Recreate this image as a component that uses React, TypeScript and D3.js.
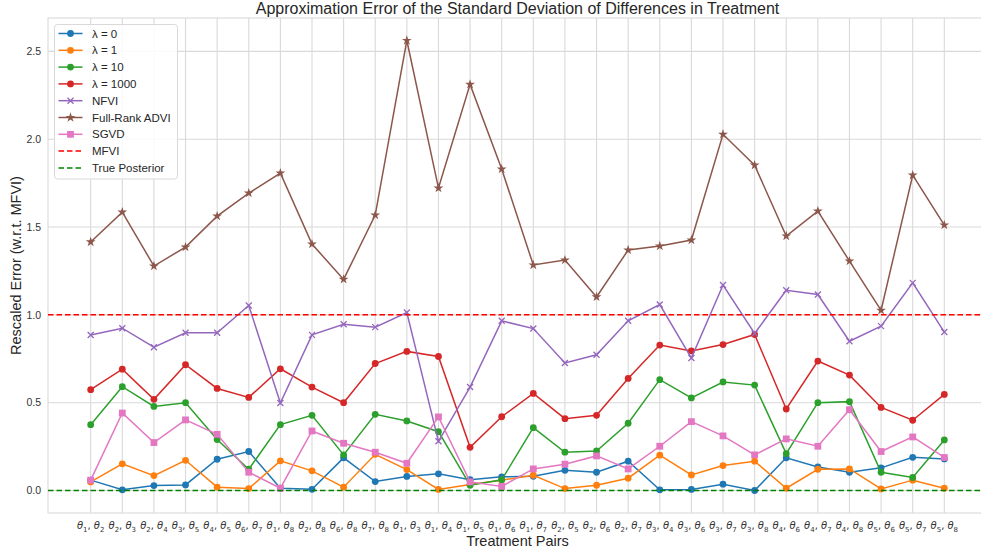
import * as d3 from "d3";

const W = 981;
const H = 554;
const margin = { top: 18, right: -6, bottom: 41, left: 48 };

// treatment pairs (theta_a, theta_b)
const pairA = [1, 2, 2, 3, 4, 6, 1, 2, 6, 7, 1, 1, 1, 1, 1, 2, 2, 2, 3, 3, 3, 3, 4, 4, 4, 5, 5, 5];
const pairB = [2, 3, 4, 5, 5, 7, 8, 8, 8, 8, 3, 4, 5, 6, 7, 5, 6, 7, 4, 6, 7, 8, 6, 7, 8, 6, 7, 8];

const lambda0 = [0.059, 0.004, 0.028, 0.032, 0.178, 0.222, 0.013, 0.007, 0.186, 0.051, 0.080, 0.095, 0.062, 0.078, 0.081, 0.115, 0.104, 0.167, 0.004, 0.006, 0.036, 0.0, 0.186, 0.134, 0.104, 0.129, 0.189, 0.180];
const lambda1 = [0.049, 0.152, 0.085, 0.172, 0.019, 0.011, 0.169, 0.112, 0.019, 0.206, 0.119, 0.006, 0.034, 0.059, 0.087, 0.011, 0.030, 0.070, 0.201, 0.089, 0.142, 0.167, 0.013, 0.121, 0.123, 0.009, 0.059, 0.013];
const lambda10 = [0.375, 0.591, 0.479, 0.500, 0.290, 0.121, 0.375, 0.428, 0.203, 0.434, 0.396, 0.335, 0.030, 0.061, 0.358, 0.218, 0.225, 0.383, 0.631, 0.527, 0.618, 0.600, 0.210, 0.500, 0.506, 0.104, 0.074, 0.288];
const lambda1000 = [0.574, 0.691, 0.519, 0.716, 0.581, 0.530, 0.693, 0.589, 0.500, 0.723, 0.792, 0.763, 0.246, 0.420, 0.553, 0.409, 0.428, 0.638, 0.828, 0.795, 0.831, 0.888, 0.464, 0.737, 0.657, 0.473, 0.400, 0.547];
const nfvi = [0.885, 0.924, 0.816, 0.898, 0.898, 1.053, 0.498, 0.886, 0.947, 0.930, 1.013, 0.280, 0.589, 0.966, 0.922, 0.726, 0.773, 0.966, 1.059, 0.754, 1.170, 0.894, 1.140, 1.116, 0.850, 0.936, 1.182, 0.902];
const fullRank = [1.415, 1.585, 1.278, 1.386, 1.562, 1.693, 1.807, 1.403, 1.202, 1.568, 2.562, 1.722, 2.312, 1.830, 1.284, 1.312, 1.102, 1.369, 1.392, 1.426, 2.028, 1.852, 1.449, 1.591, 1.306, 1.026, 1.795, 1.511];
const sgvd = [0.059, 0.441, 0.273, 0.402, 0.320, 0.104, 0.013, 0.339, 0.269, 0.218, 0.155, 0.419, 0.049, 0.023, 0.123, 0.150, 0.197, 0.123, 0.252, 0.392, 0.311, 0.203, 0.294, 0.252, 0.460, 0.222, 0.305, 0.188];

const mfviLevel = 1.0;
const trueLevel = 0.0;
const yTicks = [0, 0.5, 1.0, 1.5, 2.0, 2.5];

const series = [
  { name: "λ = 0", values: lambda0, color: "#1f77b4", marker: "circle" },
  { name: "λ = 1", values: lambda1, color: "#ff7f0e", marker: "circle" },
  { name: "λ = 10", values: lambda10, color: "#2ca02c", marker: "circle" },
  { name: "λ = 1000", values: lambda1000, color: "#d62728", marker: "circle" },
  { name: "NFVI", values: nfvi, color: "#9467bd", marker: "x" },
  { name: "Full-Rank ADVI", values: fullRank, color: "#8c564b", marker: "star" },
  { name: "SGVD", values: sgvd, color: "#e377c2", marker: "square" },
];
const refLines = [
  { name: "MFVI", value: mfviLevel, color: "#ff0000" },
  { name: "True Posterior", value: trueLevel, color: "#008000" },
];

const font = "'Liberation Sans', Arial, sans-serif";

function Marker({ type, x, y, color }) {
  if (type === "circle") return <circle cx={x} cy={y} r={3.4} fill={color} />;
  if (type === "square") return <rect x={x - 3.4} y={y - 3.4} width={6.8} height={6.8} fill={color} />;
  if (type === "star")
    return <path d={d3.symbol(d3.symbolStar, 30)()} transform={`translate(${x},${y})`} fill={color} />;
  return (
    <path
      d={`M${x - 3},${y - 3}L${x + 3},${y + 3}M${x - 3},${y + 3}L${x + 3},${y - 3}`}
      stroke={color}
      strokeWidth={1.3}
      fill="none"
    />
  );
}

export default function App() {
  const n = pairA.length;
  const x = d3.scaleLinear([-1.35, n - 1 + 1.35], [margin.left, W - margin.right]);
  const y = d3.scaleLinear([-0.128, 2.69], [H - margin.bottom, margin.top]);
  const line = d3.line<number>().x((_, i) => x(i)).y(d => y(d));
  const idx = d3.range(n);

  return (
    <svg width={W} height={H} style={{ position: "fixed", left: 0, top: 0, background: "#fff" }}>
      <defs>
        <clipPath id="plot">
          <rect x={margin.left} y={margin.top} width={W - margin.right - margin.left} height={H - margin.bottom - margin.top} />
        </clipPath>
      </defs>
      {/* grid */}
      {idx.map(i => (
        <line key={"gx" + i} x1={x(i)} x2={x(i)} y1={margin.top} y2={H - margin.bottom} stroke="#d9d9d9" strokeWidth={1.1} />
      ))}
      {yTicks.map(t => (
        <line key={"gy" + t} x1={margin.left} x2={W} y1={y(t)} y2={y(t)} stroke="#d9d9d9" strokeWidth={1.1} />
      ))}
      <rect x={margin.left} y={margin.top} width={W - margin.left + 10} height={H - margin.bottom - margin.top} fill="none" stroke="#d9d9d9" strokeWidth={1.1} />

      {/* y ticks */}
      {yTicks.map(t => (
        <text key={"yt" + t} x={margin.left - 7} y={y(t)} dy="0.35em" textAnchor="end" fontFamily={font} fontSize={10.5} fill="#333">
          {d3.format(".1f")(t)}
        </text>
      ))}
      {/* x ticks */}
      {idx.map(i => (
        <text key={"xt" + i} x={x(i)} y={H - margin.bottom + 16} textAnchor="middle" fontFamily="'DejaVu Sans', sans-serif" fontSize={10} fill="#333">
          <tspan fontStyle="italic">θ</tspan>
          <tspan fontSize={7} dy={2.5}>{pairA[i]}</tspan>
          <tspan dy={-2.5}>, </tspan>
          <tspan fontStyle="italic">θ</tspan>
          <tspan fontSize={7} dy={2.5}>{pairB[i]}</tspan>
        </text>
      ))}

      <g clipPath="url(#plot)">
        {series.map(s => (
          <g key={s.name}>
            <path d={line(s.values)} fill="none" stroke={s.color} strokeWidth={1.5} />
            {s.values.map((v, i) => (
              <Marker key={i} type={s.marker} x={x(i)} y={y(v)} color={s.color} />
            ))}
          </g>
        ))}
        {refLines.map(r => (
          <line key={r.name} x1={margin.left} x2={W} y1={y(r.value)} y2={y(r.value)} stroke={r.color} strokeWidth={1.5} strokeDasharray="5.5,3" />
        ))}
      </g>

      {/* titles */}
      <text x={(margin.left + W - margin.right) / 2} y={13.5} textAnchor="middle" fontFamily={font} fontSize={16} fill="#262626">
        Approximation Error of the Standard Deviation of Differences in Treatment
      </text>
      <text x={(margin.left + W - margin.right) / 2} y={H - 8} textAnchor="middle" fontFamily={font} fontSize={14.5} fill="#262626">
        Treatment Pairs
      </text>
      <text transform={`translate(21,${(margin.top + H - margin.bottom) / 2}) rotate(-90)`} textAnchor="middle" fontFamily={font} fontSize={14.5} fill="#262626">
        Rescaled Error (w.r.t. MFVI)
      </text>

      {/* legend */}
      <g>
        <rect x={54.5} y={24.5} width={123} height={154.5} rx={3} fill="#fff" fillOpacity={0.85} stroke="#d9d9d9" />
        {series.map((s, i) => {
          const ly = 33.5 + i * 16.8;
          return (
            <g key={s.name}>
              <line x1={58.5} x2={82.5} y1={ly} y2={ly} stroke={s.color} strokeWidth={1.5} />
              <Marker type={s.marker} x={70.5} y={ly} color={s.color} />
              <text x={92} y={ly} dy="0.35em" fontFamily={font} fontSize={11.5} fill="#262626">{s.name}</text>
            </g>
          );
        })}
        {refLines.map((r, j) => {
          const ly = 33.5 + (series.length + j) * 16.8;
          return (
            <g key={r.name}>
              <line x1={58.5} x2={82.5} y1={ly} y2={ly} stroke={r.color} strokeWidth={1.5} strokeDasharray="5.5,3" />
              <text x={92} y={ly} dy="0.35em" fontFamily={font} fontSize={11.5} fill="#262626">{r.name}</text>
            </g>
          );
        })}
      </g>
    </svg>
  );
}
